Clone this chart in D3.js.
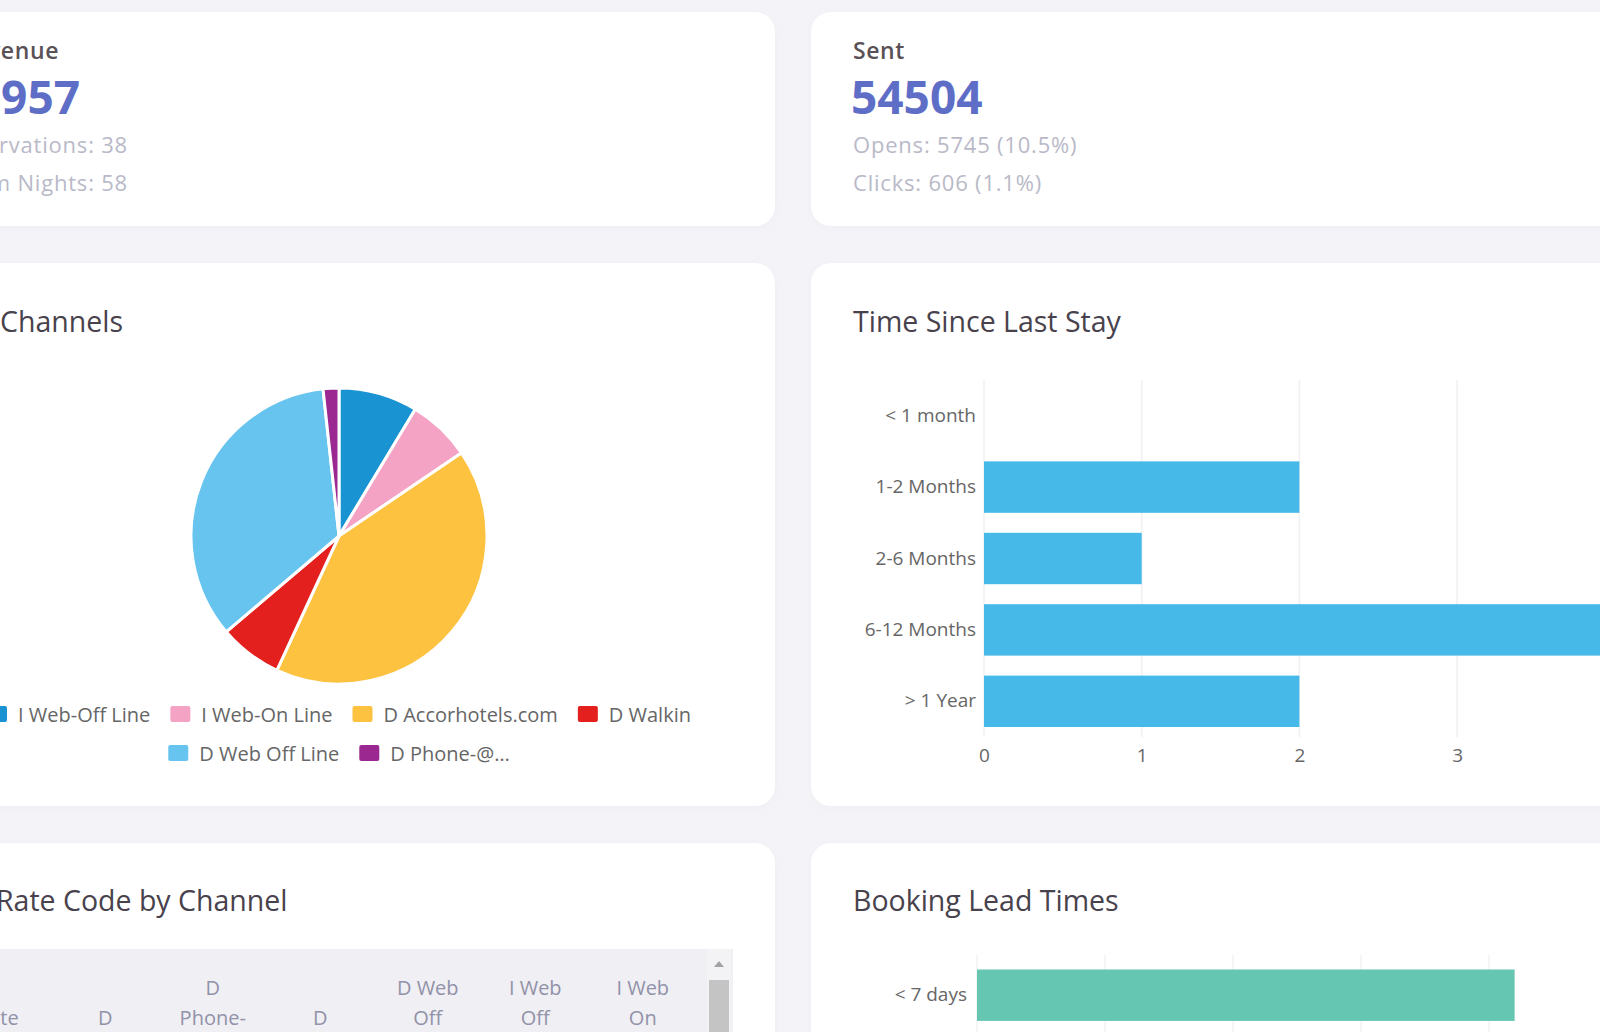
<!DOCTYPE html>
<html>
<head>
<meta charset="utf-8">
<script src="https://cdn.jsdelivr.net/npm/d3@7"></script>
<style>
  html, body { margin: 0; padding: 0; background: #f4f4f8; overflow: hidden; }
  svg { display: block; font-family: "Open Sans", sans-serif; }
</style>
</head>
<body>
<svg id="dash" width="1600" height="1032"></svg>
<script>
// ---- summary cards ----
var revenueText = "$1,957";
var reservations = 38;
var roomNights = 58;
var sentCount = 54504;
var opensCount = 5745, opensPct = "10.5%";
var clicksCount = 606, clicksPct = "1.1%";

// ---- channels pie ----
var channelNames = ["I Web-Off Line", "I Web-On Line", "D Accorhotels.com", "D Walkin", "D Web Off Line", "D Phone-@…"];
var channelCounts = [5, 4, 24, 4, 20, 1];
var channelColors = ["#1a93d2", "#f5a3c4", "#fdc240", "#e3201d", "#66c4ee", "#9b2790"];

// ---- time since last stay ----
var stayCats = ["< 1 month", "1-2 Months", "2-6 Months", "6-12 Months", "> 1 Year"];
var stayCounts = [0, 2, 1, 4, 2];
var stayTicks = [0, 1, 2, 3, 4];

// ---- booking lead times ----
var leadCats = ["< 7 days"];
var leadCounts = [21];
var leadTicks = [0, 5, 10, 15, 20, 25];

// ---- rate code table header (bottom aligned, 3 line slots) ----
var tableHeads = [
  ["", "Rate", "Code"],
  ["", "D", "Accorhotels.com"],
  ["D", "Phone-", "@…"],
  ["", "D", "Walkin"],
  ["D Web", "Off", "Line"],
  ["I Web", "Off", "Line"],
  ["I Web", "On", "Line"]
];

var svg = d3.select("#dash");

// soft card shadow
var defs = svg.append("defs");
defs.append("filter").attr("id", "shadow").attr("x", "-10%").attr("y", "-10%").attr("width", "120%").attr("height", "120%")
  .append("feDropShadow").attr("dx", 0).attr("dy", 2).attr("stdDeviation", 5)
  .attr("flood-color", "#9090b0").attr("flood-opacity", 0.07);

// cards
var cards = [
  [-80, 12, 855, 214], [811, 12, 870, 214],
  [-80, 263, 855, 543], [811, 263, 870, 543],
  [-80, 843, 855, 300], [811, 843, 870, 300]
];
svg.selectAll("rect.card").data(cards).join("rect")
  .attr("class", "card")
  .attr("x", d => d[0]).attr("y", d => d[1])
  .attr("width", d => d[2]).attr("height", d => d[3])
  .attr("rx", 20).attr("fill", "#fff")
  .attr("filter", "url(#shadow)");

// ---------- top summary cards ----------
function statLabel(x, y, txt, anchor) {
  return svg.append("text").attr("x", x).attr("y", y).attr("text-anchor", anchor)
    .attr("dominant-baseline", "central").attr("fill", "#5a5157")
    .attr("font-size", 23).attr("font-weight", 600).attr("letter-spacing", 0.6).text(txt);
}
function statBig(x, y, txt, anchor) {
  return svg.append("text").attr("x", x).attr("y", y).attr("text-anchor", anchor)
    .attr("dominant-baseline", "central").attr("fill", "#5e6dc6")
    .attr("font-size", 46).attr("font-weight", 700).text(txt);
}
function statSmall(x, y, txt, anchor) {
  return svg.append("text").attr("x", x).attr("y", y).attr("text-anchor", anchor)
    .attr("dominant-baseline", "central").attr("fill", "#b9b9c8")
    .attr("font-size", 22).attr("letter-spacing", 0.8).text(txt);
}

statLabel(59, 50, "Revenue", "end");
statBig(80, 96, revenueText, "end");
statSmall(128, 144, "Reservations: " + reservations, "end");
statSmall(128, 182, "Room Nights: " + roomNights, "end");

statLabel(853, 50, "Sent", "start");
statBig(851, 96, String(sentCount), "start");
statSmall(853, 144, "Opens: " + opensCount + " (" + opensPct + ")", "start");
statSmall(853, 182, "Clicks: " + clicksCount + " (" + clicksPct + ")", "start");

// card titles
function cardTitle(x, y, txt) {
  svg.append("text").attr("x", x).attr("y", y).attr("dominant-baseline", "central")
    .attr("fill", "#48424c").attr("font-size", 28.5).attr("font-weight", 500).text(txt);
}
cardTitle(0, 321, "Channels");
cardTitle(853, 321, "Time Since Last Stay");
cardTitle(-4, 900, "Rate Code by Channel");
cardTitle(853, 900, "Booking Lead Times");

// ---------- channels pie ----------
var pieCx = 339, pieCy = 536, pieR = 148;
var pie = d3.pie().sort(null).value(d => d);
var arc = d3.arc().innerRadius(0).outerRadius(pieR);
svg.append("g").attr("transform", "translate(" + pieCx + "," + pieCy + ")")
  .selectAll("path").data(pie(channelCounts)).join("path")
  .attr("d", arc)
  .attr("fill", (d, i) => channelColors[i])
  .attr("stroke", "#fff").attr("stroke-width", 3);

// legend, two centred rows
var legendRows = [[0, 1, 2, 3], [4, 5]];
var legendY = [714, 753];
var boxW = 20, boxH = 16, boxGap = 11, itemGap = 20;
var legend = svg.append("g").attr("font-size", 20).attr("fill", "#666");
legendRows.forEach(function (row, r) {
  var items = row.map(function (i) {
    var g = legend.append("g");
    g.append("rect").attr("width", boxW).attr("height", boxH).attr("y", -boxH / 2)
      .attr("rx", 2).attr("fill", channelColors[i]);
    var t = g.append("text").attr("x", boxW + boxGap).attr("dominant-baseline", "central")
      .text(channelNames[i]);
    return { g: g, w: boxW + boxGap + t.node().getComputedTextLength() };
  });
  var total = d3.sum(items, d => d.w) + itemGap * (items.length - 1);
  var x = pieCx - total / 2;
  items.forEach(function (it) {
    it.g.attr("transform", "translate(" + x + "," + legendY[r] + ")");
    x += it.w + itemGap;
  });
});

// ---------- time since last stay ----------
var xStay = d3.scaleLinear().domain([0, 4]).range([984, 984 + 4 * 157.7]);
var yStay = d3.scaleBand().domain(stayCats).range([380, 737]);
var stayG = svg.append("g");
stayG.selectAll("line.grid").data(stayTicks).join("line")
  .attr("x1", d => xStay(d)).attr("x2", d => xStay(d))
  .attr("y1", 380).attr("y2", 737)
  .attr("stroke", "#f0f0f2").attr("stroke-width", 1.5);
var barFrac = 0.72;
stayG.selectAll("rect.bar").data(stayCounts).join("rect")
  .attr("x", xStay(0))
  .attr("y", (d, i) => yStay(stayCats[i]) + yStay.bandwidth() * (1 - barFrac) / 2)
  .attr("width", d => xStay(d) - xStay(0))
  .attr("height", yStay.bandwidth() * barFrac)
  .attr("fill", "#46b9e8");
var stayY = d3.axisLeft(yStay).tickSize(0).tickPadding(8);
stayG.append("g").attr("transform", "translate(" + xStay(0) + ",0)").call(stayY)
  .call(g => g.select(".domain").remove())
  .selectAll("text").attr("font-size", 19).attr("fill", "#666").attr("font-family", "Open Sans");
var stayX = d3.axisBottom(xStay).tickValues(stayTicks).tickSize(0).tickPadding(12).tickFormat(d3.format("d"));
stayG.append("g").attr("transform", "translate(0,737)").call(stayX)
  .call(g => g.select(".domain").remove())
  .selectAll("text").attr("font-size", 19).attr("fill", "#666").attr("font-family", "Open Sans");

// ---------- booking lead times ----------
var xLead = d3.scaleLinear().domain([0, 5]).range([977, 977 + 128]);
var yLead = d3.scaleBand().domain(leadCats).range([959.5, 959.5 + 71.4 * leadCats.length]);
var leadG = svg.append("g");
leadG.selectAll("line.grid").data(leadTicks).join("line")
  .attr("x1", d => xLead(d)).attr("x2", d => xLead(d))
  .attr("y1", 955).attr("y2", 1040)
  .attr("stroke", "#f2f2f4").attr("stroke-width", 1.5);
leadG.selectAll("rect.bar").data(leadCounts).join("rect")
  .attr("x", xLead(0))
  .attr("y", (d, i) => yLead(leadCats[i]) + yLead.bandwidth() * (1 - barFrac) / 2)
  .attr("width", d => xLead(d) - xLead(0))
  .attr("height", yLead.bandwidth() * barFrac)
  .attr("fill", "#65c6b2");
leadG.append("g").attr("transform", "translate(" + xLead(0) + ",0)")
  .call(d3.axisLeft(yLead).tickSize(0).tickPadding(10))
  .call(g => g.select(".domain").remove())
  .selectAll("text").attr("font-size", 19).attr("fill", "#666").attr("font-family", "Open Sans");

// ---------- rate code table header ----------
var colX = d3.scaleBand().domain(d3.range(tableHeads.length)).range([-56, -56 + 107.5 * tableHeads.length]);
svg.append("rect").attr("x", -60).attr("y", 949).attr("width", 793).attr("height", 120).attr("fill", "#efeff4");
// scrollbar
svg.append("rect").attr("x", 707).attr("y", 949).attr("width", 24).attr("height", 120).attr("fill", "#f3f3f5");
svg.append("path").attr("d", "M714,967 L719,961 L724,967 Z").attr("fill", "#a3a3a3");
svg.append("rect").attr("x", 709).attr("y", 980).attr("width", 20).attr("height", 100).attr("fill", "#c4c4c4");
var lineY = [987, 1017, 1047];
var headG = svg.append("g").attr("font-size", 20).attr("fill", "#9292a8").attr("text-anchor", "middle");
tableHeads.forEach(function (lines, i) {
  lines.forEach(function (ln, j) {
    if (!ln) return;
    headG.append("text").attr("x", colX(i) + colX.bandwidth() / 2).attr("y", lineY[j])
      .attr("dominant-baseline", "central").text(ln);
  });
});
</script>
</body>
</html>
